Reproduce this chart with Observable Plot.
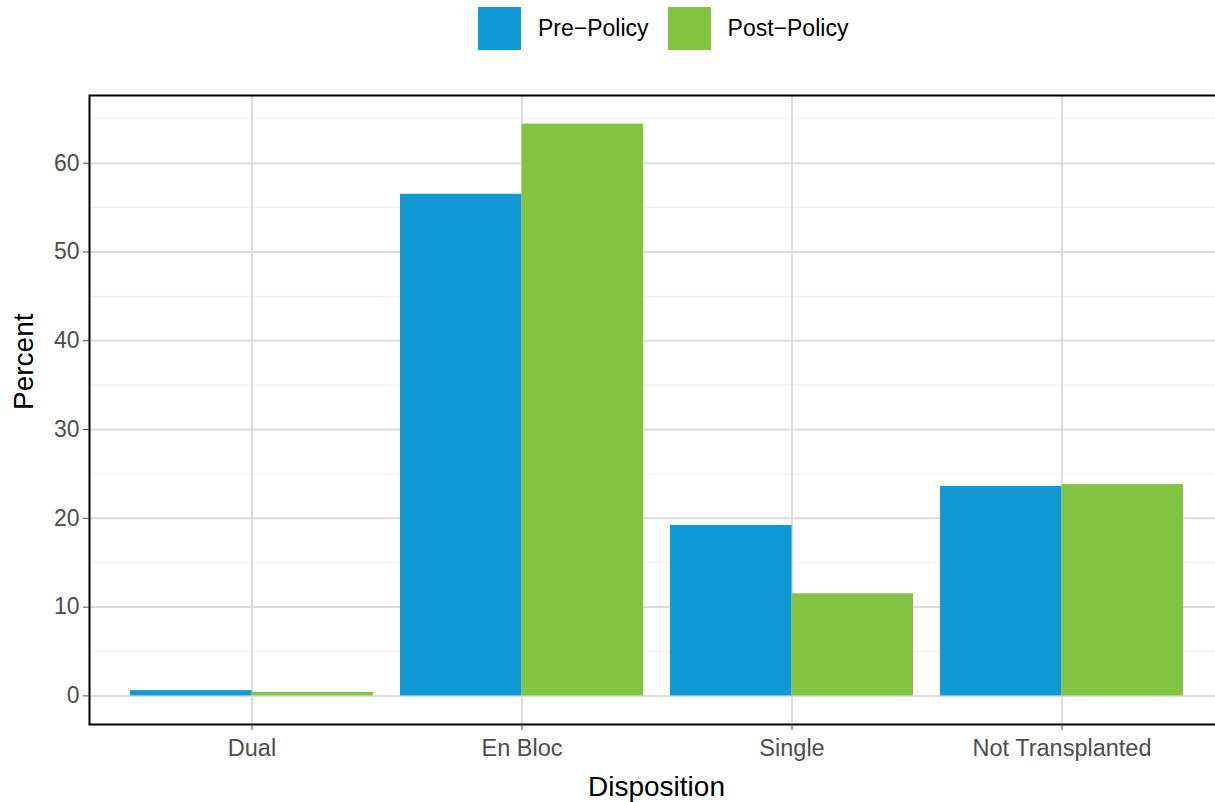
<!DOCTYPE html>
<html>
<head>
<meta charset="utf-8">
<script src="https://cdn.jsdelivr.net/npm/d3@7"></script>
<script src="https://cdn.jsdelivr.net/npm/@observablehq/plot@0.6"></script>
<style>
  html, body { margin: 0; padding: 0; background: #fff; overflow: hidden; }
  #wrap { position: relative; width: 1215px; height: 802px; overflow: hidden; font-family: "Liberation Sans", Arial, Helvetica, sans-serif; }
  #legend { position: absolute; top: 7px; left: 478px; display: flex; align-items: center; font-size: 23px; color: #000; }
  .sw { width: 43px; height: 43px; display: inline-block; }
  .lab { margin-left: 17px; margin-right: 19px; }
</style>
</head>
<body>
<div id="wrap">
  <div id="chart"></div>
  <div id="legend"></div>
</div>
<script>
// Data
const categories = ["Dual", "En Bloc", "Single", "Not Transplanted"];
const groups = ["Pre\u2212Policy", "Post\u2212Policy"];
const preValues = [0.6, 56.5, 19.2, 23.6];
const postValues = [0.4, 64.4, 11.5, 23.8];
const yTicks = [0, 10, 20, 30, 40, 50, 60];
const yMinorTicks = [5, 15, 25, 35, 45, 55, 65];
const colors = ["#1199d6", "#82c341"];

const rows = [];
categories.forEach((c, i) => {
  rows.push({category: c, group: groups[0], value: preValues[i]});
  rows.push({category: c, group: groups[1], value: postValues[i]});
});

const W = 1223, H = 802;
const mL = 89, mR = 0, mT = 95, mB = 78;
const step = (W - mL - mR) / (categories.length - 0.1 + 0.3);
const half = step * 0.9 / 2;

const maxV = d3.max(rows, d => d.value);
const pad = maxV * 0.05;

const chart = Plot.plot({
  width: W,
  height: H,
  marginLeft: mL,
  marginRight: mR,
  marginTop: mT,
  marginBottom: mB,
  style: {maxWidth: "none", fontFamily: "Liberation Sans, Arial, Helvetica, sans-serif", background: "#fff"},
  x: {domain: categories, paddingInner: 0.1, paddingOuter: 0.15, axis: null},
  y: {domain: [-pad, maxV + pad], axis: null},
  color: {domain: groups, range: colors},
  marks: [
    Plot.gridY(yMinorTicks, {stroke: "#efefef", strokeOpacity: 1, strokeWidth: 1.1}),
    Plot.gridY(yTicks, {stroke: "#dcdcdc", strokeOpacity: 1, strokeWidth: 2}),
    Plot.gridX(categories, {stroke: "#dcdcdc", strokeOpacity: 1, strokeWidth: 2}),
    Plot.barY(rows.filter(d => d.group === groups[0]), {x: "category", y1: 0, y2: "value", fill: colors[0], insetRight: half}),
    Plot.barY(rows.filter(d => d.group === groups[1]), {x: "category", y1: 0, y2: "value", fill: colors[1], insetLeft: half}),
    Plot.frame({stroke: "#000", strokeWidth: 2}),
    Plot.axisY(yTicks, {tickSize: 6, tickPadding: 4, fontSize: 23, color: "#4d4d4d", label: null}),
    Plot.axisX(categories, {tickSize: 6, tickPadding: 9, fontSize: 23.5, color: "#4d4d4d", label: null}),
    Plot.text(["Percent"], {frameAnchor: "left", dx: -65, rotate: -90, fontSize: 28, fill: "#000"}),
    Plot.text(["Disposition"], {frameAnchor: "bottom", dy: 71, fontSize: 28, fill: "#000"})
  ]
});
document.getElementById("chart").appendChild(chart);

const legend = document.getElementById("legend");
groups.forEach((g, i) => {
  const sw = document.createElement("span");
  sw.className = "sw";
  sw.style.background = colors[i];
  legend.appendChild(sw);
  const lab = document.createElement("span");
  lab.className = "lab";
  lab.textContent = g;
  legend.appendChild(lab);
});
</script>
</body>
</html>
